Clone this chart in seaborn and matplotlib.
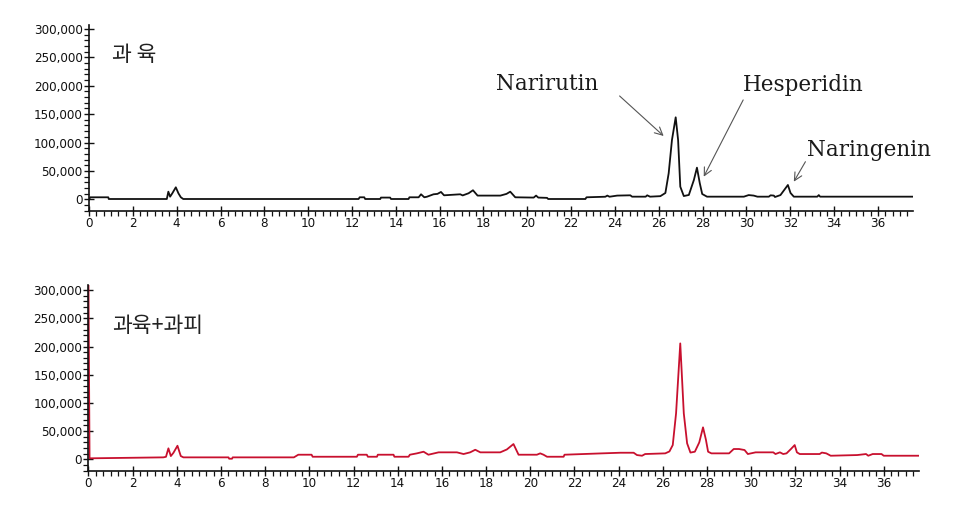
import matplotlib
matplotlib.use("Agg")
import matplotlib.pyplot as plt
from matplotlib.ticker import MultipleLocator, FuncFormatter
from matplotlib import font_manager
import seaborn as sns
import pandas as pd

# ---------------- data ----------------
top_time = [0.0, 0.05, 0.88, 0.9, 3.55, 3.62, 3.7, 3.8, 3.96, 4.08, 4.19, 4.3,
            12.3, 12.35, 12.56, 12.6, 13.29, 13.32, 13.74, 13.78, 14.58, 14.62,
            15.04, 15.15, 15.3, 15.42, 15.72, 15.9, 16.06, 16.2, 16.94, 17.05,
            17.32, 17.52, 17.73, 18.77, 19.05, 19.22, 19.45, 20.29, 20.4, 20.5,
            20.9, 20.95, 22.65, 22.7, 23.56, 23.65, 23.75, 24.1, 24.7, 24.78,
            25.4, 25.47, 25.6, 26.07, 26.3, 26.45, 26.6, 26.77, 26.88, 26.98,
            27.14, 27.37, 27.6, 27.74, 27.87, 27.98, 28.2, 29.88, 30.1, 30.33,
            30.5, 31.02, 31.1, 31.25, 31.3, 31.55, 31.78, 31.89, 32.01, 32.16,
            33.23, 33.3, 33.36, 37.6]
top_signal = [-1000, 3500, 3500, 500, 500, 13400, 4600, 10500, 21100, 10500, 3500, 500,
              500, 3500, 3500, 500, 500, 3000, 3000, 500, 500, 3500,
              3500, 8800, 3500, 4500, 8800, 9500, 12900, 7000, 8800, 6800,
              10600, 15900, 6500, 6500, 9500, 13400, 3500, 3000, 6500, 3000,
              2500, 500, 500, 3500, 4500, 6500, 4500, 6500, 7000, 4600,
              4600, 7000, 4600, 5500, 11100, 45800, 104500, 144400, 104500, 22200,
              5700, 7600, 34000, 55700, 28200, 9300, 4600, 4600, 7400, 6500,
              4600, 4600, 7000, 6500, 4000, 7400, 19400, 25200, 11100, 4600,
              4600, 7400, 4600, 4600]

bottom_time = [0.0, 0.05, 3.39, 3.51, 3.62, 3.73, 3.85, 4.03, 4.18, 4.3,
               6.34, 6.37, 6.5, 6.53, 9.3, 9.5, 10.1, 10.15, 12.15, 12.2,
               12.6, 12.65, 13.06, 13.1, 13.81, 13.85, 14.49, 14.55, 14.87, 15.17,
               15.39, 15.85, 16.68, 16.98, 17.28, 17.51, 17.74, 18.64, 18.94, 19.24,
               19.47, 20.3, 20.45, 20.6, 20.76, 21.51, 21.55, 23.25, 24.08, 24.68,
               24.83, 25.06, 25.2, 26.11, 26.3, 26.45, 26.6, 26.79, 26.95, 27.1,
               27.25, 27.45, 27.65, 27.82, 27.95, 28.05, 28.2, 29.0, 29.21, 29.45,
               29.7, 29.85, 30.2, 31.0, 31.1, 31.3, 31.45, 31.6, 31.8, 31.97,
               32.07, 32.2, 33.1, 33.2, 33.4, 33.6, 34.8, 35.2, 35.3, 35.5,
               35.9, 36.0, 37.6]
bottom_signal = [320000, 1800, 3500, 4500, 19500, 5800, 11700, 24100, 5800, 3500,
                 3500, 1100, 1100, 3500, 3500, 8200, 8200, 4600, 4600, 8200,
                 8200, 4600, 4600, 8200, 8200, 4600, 4600, 8200, 10600, 13500,
                 8200, 12400, 12400, 9400, 12400, 17000, 12400, 12400, 17500, 27100,
                 8200, 8200, 10600, 8200, 4600, 4600, 8200, 10600, 11700, 11700,
                 7600, 6400, 9400, 10600, 14000, 25300, 81500, 205500, 81500, 28400,
                 12000, 13500, 30000, 56700, 35000, 13500, 10600, 10600, 18300, 18300,
                 16500, 9400, 12400, 12400, 9400, 12400, 9400, 10600, 18300, 25300,
                 12400, 9400, 9400, 12000, 10600, 6400, 7600, 9400, 6400, 9400,
                 9400, 6400, 6400]

panel_labels = ["과 육", "과육+과피"]
peak_names = ["Narirutin", "Hesperidin", "Naringenin"]
# text anchor (time, signal) and arrow (start, end) in data units
peak_text_pos = [(18.55, 192000), (29.85, 191000), (32.75, 77000)]
peak_arrow_start = [(24.21, 182000), (29.85, 175000), (32.69, 66200)]
peak_arrow_end = [(26.22, 111500), (28.05, 39800), (32.16, 31000)]

x_major = 2
x_minor = 1 / 3
y_major = 50000
y_minor = 10000

# ---------------- style ----------------
sns.set_style("white")
plt.rcParams["font.family"] = ["DejaVu Sans"]

tick_font = font_manager.FontProperties(family="DejaVu Sans", stretch="condensed",
                                        size=9.5)

fig = plt.figure(figsize=(9.74, 5.23), dpi=100)
ax_top = fig.add_axes([0.0914, 0.5966, 0.846, 0.3556])
ax_bot = fig.add_axes([0.0908, 0.0994, 0.8528, 0.3556])

df_top = pd.DataFrame({"time": top_time, "signal": top_signal})
df_bot = pd.DataFrame({"time": bottom_time, "signal": bottom_signal})

sns.lineplot(data=df_top, x="time", y="signal", ax=ax_top, color="#111111",
             linewidth=1.3, sort=False)
sns.lineplot(data=df_bot, x="time", y="signal", ax=ax_bot, color="#c8102e",
             linewidth=1.3, sort=False)

fmt = FuncFormatter(lambda v, p: f"{int(round(v)):,}")
for ax, ylim in ((ax_top, (-20600, 307000)), (ax_bot, (-20700, 309000))):
    ax.set_xlim(0, 37.6)
    ax.set_ylim(*ylim)
    ax.set_xlabel("")
    ax.set_ylabel("")
    for s in ("top", "right"):
        ax.spines[s].set_visible(False)
    for s in ("left", "bottom"):
        ax.spines[s].set_color("#111111")
        ax.spines[s].set_linewidth(1.2)
    ax.xaxis.set_major_locator(MultipleLocator(x_major))
    ax.xaxis.set_minor_locator(MultipleLocator(x_minor))
    ax.yaxis.set_major_locator(MultipleLocator(y_major))
    ax.yaxis.set_minor_locator(MultipleLocator(y_minor))
    ax.set_yticks(range(0, 300001, y_major))
    ax.yaxis.set_major_formatter(fmt)
    ax.tick_params(axis="x", which="both", bottom=True, top=False)
    ax.tick_params(axis="y", which="both", left=True, right=False)
    ax.tick_params(axis="both", which="major", direction="inout", length=7,
                   width=1.0, color="#111111", labelcolor="#111111", pad=1)
    ax.tick_params(axis="both", which="minor", direction="out", length=3.5,
                   width=0.9, color="#111111")
    for lab in ax.get_xticklabels() + ax.get_yticklabels():
        lab.set_fontproperties(tick_font)
    ax.grid(False)

ax_top.text(0.028, 0.84, panel_labels[0], transform=ax_top.transAxes,
            fontsize=15.5, family=["Noto Sans CJK KR", "DejaVu Sans"],
            va="center", ha="left", color="#222222")
ax_bot.text(0.028, 0.78, panel_labels[1], transform=ax_bot.transAxes,
            fontsize=15.5, family=["Noto Sans CJK KR", "DejaVu Sans"],
            va="center", ha="left", color="#222222")

for name, tp, a0, a1 in zip(peak_names, peak_text_pos, peak_arrow_start, peak_arrow_end):
    ax_top.text(tp[0], tp[1], name, fontsize=15.5, family="DejaVu Serif",
                ha="left", va="baseline", color="#1a1a1a", clip_on=False)
    ax_top.annotate("", xy=a1, xytext=a0,
                    arrowprops=dict(arrowstyle="->", color="#555555", lw=0.8,
                                    mutation_scale=14, shrinkA=0, shrinkB=0))

fig.savefig("out.png", dpi=100)
